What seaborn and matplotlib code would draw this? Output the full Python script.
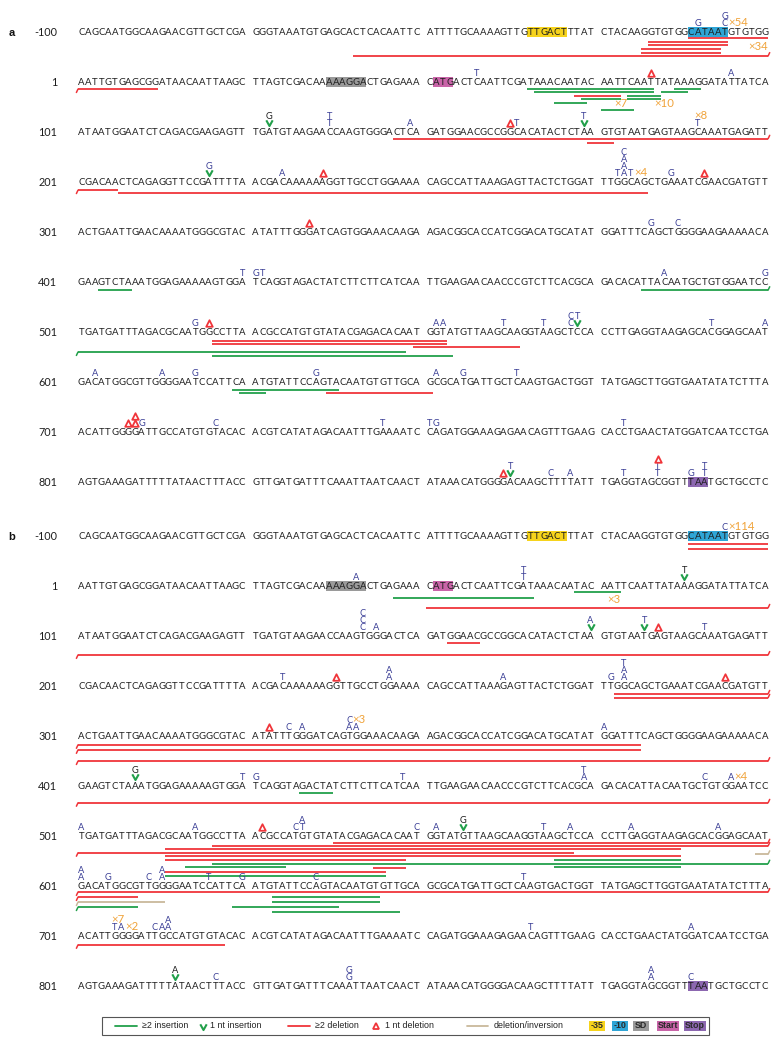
import matplotlib
matplotlib.use("Agg")
import matplotlib.pyplot as plt
from matplotlib.patches import Rectangle
from matplotlib.path import Path
import numpy as np
import pandas as pd
import seaborn as sns

# %%
# Reference sequence: 10 rows, 4 blocks of 25 nt each
row_labels = ["-100", "1", "101", "201", "301", "401", "501", "601", "701", "801"]
seq_blocks = [
    ["CAGCAATGGCAAGAACGTTGCTCGA", "GGGTAAATGTGAGCACTCACAATTC", "ATTTTGCAAAAGTTGTTGACTTTAT", "CTACAAGGTGTGGCATAATGTGTGG"],
    ["AATTGTGAGCGGATAACAATTAAGC", "TTAGTCGACAAAAAGGACTGAGAAA", "CATGACTCAATTCGATAAACAATAC", "AATTCAATTATAAAGGATATTATCA"],
    ["ATAATGGAATCTCAGACGAAGAGTT", "TGATGTAAGAACCAAGTGGGACTCA", "GATGGAACGCCGGCACATACTCTAA", "GTGTAATGAGTAAGCAAATGAGATT"],
    ["CGACAACTCAGAGGTTCCGATTTTA", "ACGACAAAAAAGGTTGCCTGGAAAA", "CAGCCATTAAAGAGTTACTCTGGAT", "TTGGCAGCTGAAATCGAACGATGTT"],
    ["ACTGAATTGAACAAAATGGGCGTAC", "ATATTTGGGATCAGTGGAAACAAGA", "AGACGGCACCATCGGACATGCATAT", "GGATTTCAGCTGGGGAAGAAAAACA"],
    ["GAAGTCTAAATGGAGAAAAAGTGGA", "TCAGGTAGACTATCTTCTTCATCAA", "TTGAAGAACAACCCGTCTTCACGCA", "GACACATTACAATGCTGTGGAATCC"],
    ["TGATGATTTAGACGCAATGGCCTTA", "ACGCCATGTGTATACGAGACACAAT", "GGTATGTTAAGCAAGGTAAGCTCCA", "CCTTGAGGTAAGAGCACGGAGCAAT"],
    ["GACATGGCGTTGGGGAATCCATTCA", "ATGTATTCCAGTACAATGTGTTGCA", "GCGCATGATTGCTCAAGTGACTGGT", "TATGAGCTTGGTGAATATATCTTTA"],
    ["ACATTGGGGATTGCCATGTGTACAC", "ACGTCATATAGACAATTTGAAAATC", "CAGATGGAAAGAGAACAGTTTGAAG", "CACCTGAACTATGGATCAATCCTGA"],
    ["AGTGAAAGATTTTTATAACTTTACC", "GTTGATGATTTCAAATTAATCAACT", "ATAAACATGGGGACAAGCTTTTATT", "TGAGGTAGCGGTTTAATGCTGCCTC"],
]

# boxed features: name, row, first col, last col
feature_names = ["-35", "-10", "SD", "Start", "Stop"]
feature_rows = [0, 0, 1, 1, 9]
feature_first = [65, 88, 36, 51, 88]
feature_last = [70, 93, 41, 53, 90]
feature_colors = ["#f6d31c", "#2fa5d6", "#9a9a9a", "#c964a8", "#8c67b0"]

# stacked marks above a base: (row, col, stack bottom->top)
# upper case = substitution (blue), lower case = inserted base (black),
# V = 1 nt insertion, D = 1 nt deletion
stacks_a = [
    (0, 89, "G"), (0, 93, "CG"),
    (1, 57, "T"), (1, 82, "D"), (1, 94, "A"),
    (2, 27, "Vg"), (2, 36, "TT"), (2, 48, "A"), (2, 62, "D"), (2, 63, "T"), (2, 73, "VT"), (2, 89, "T"),
    (3, 19, "VG"), (3, 29, "A"), (3, 35, "D"), (3, 77, "T"), (3, 78, "AAAC"), (3, 79, "T"), (3, 85, "G"), (3, 90, "D"),
    (4, 33, "D"), (4, 82, "G"), (4, 86, "C"),
    (5, 24, "T"), (5, 25, "G"), (5, 26, "T"), (5, 84, "A"), (5, 99, "G"),
    (6, 17, "G"), (6, 19, "D"), (6, 51, "A"), (6, 52, "A"), (6, 61, "T"), (6, 67, "T"), (6, 71, "CC"),
    (6, 72, "VT"), (6, 91, "T"), (6, 99, "A"),
    (7, 2, "A"), (7, 12, "A"), (7, 17, "G"), (7, 34, "G"), (7, 51, "A"), (7, 55, "G"), (7, 63, "T"),
    (8, 7, "D"), (8, 8, "DD"), (8, 9, "G"), (8, 20, "C"), (8, 44, "T"), (8, 50, "T"), (8, 51, "G"), (8, 78, "T"),
    (9, 61, "D"), (9, 62, "VT"), (9, 68, "C"), (9, 71, "A"), (9, 78, "T"), (9, 83, "TTD"), (9, 88, "G"), (9, 90, "TT"),
]
stacks_b = [
    (0, 93, "C"),
    (1, 40, "A"), (1, 64, "TT"), (1, 87, "Vt"),
    (2, 41, "CCC"), (2, 43, "A"), (2, 74, "VA"), (2, 81, "VT"), (2, 83, "D"), (2, 90, "T"),
    (3, 29, "T"), (3, 37, "D"), (3, 45, "AA"), (3, 61, "A"), (3, 76, "G"), (3, 78, "AAT"), (3, 93, "D"),
    (4, 27, "D"), (4, 30, "C"), (4, 32, "A"), (4, 39, "AC"), (4, 40, "A"), (4, 75, "A"),
    (5, 8, "Vg"), (5, 24, "T"), (5, 25, "G"), (5, 47, "T"), (5, 73, "AT"), (5, 90, "C"), (5, 94, "A"),
    (6, 0, "A"), (6, 17, "A"), (6, 26, "D"), (6, 31, "C"), (6, 32, "TA"), (6, 49, "C"), (6, 51, "A"),
    (6, 55, "Vg"), (6, 67, "T"), (6, 71, "A"), (6, 79, "A"), (6, 92, "A"),
    (7, 0, "AA"), (7, 4, "G"), (7, 10, "C"), (7, 12, "AA"), (7, 19, "T"), (7, 24, "G"), (7, 34, "C"), (7, 64, "T"),
    (8, 5, "T"), (8, 6, "A"), (8, 11, "C"), (8, 12, "A"), (8, 13, "AA"), (8, 65, "T"), (8, 88, "A"),
    (9, 14, "Va"), (9, 20, "C"), (9, 39, "GG"), (9, 82, "AA"), (9, 88, "C"),
]

# multi-nt events: (row, first col, last col, track, kind, continuation)
# kind g = insertion, r = deletion, t = deletion/inversion
lines_a = [
    (0, 88, 99, 0, "r", ""), (0, 82, 93, 1.1, "r", ""), (0, 82, 93, 2, "r", ""),
    (0, 81, 92, 3.1, "r", ""), (0, 81, 92, 4.2, "r", ""), (0, 40, 99, 5, "r", "R"),
    (1, 0, 11, 0.3, "r", "L"), (1, 65, 82, 0.3, "g", ""), (1, 86, 89, 0.3, "g", ""),
    (1, 66, 82, 1.2, "g", ""), (1, 84, 87, 1.2, "g", ""),
    (1, 72, 77, 2.1, "r", ""), (1, 79, 83, 2.1, "g", ""),
    (1, 73, 77, 3, "g", ""), (1, 79, 83, 3, "g", ""),
    (1, 69, 73, 4.2, "g", ""), (1, 75, 79, 6.1, "g", ""),
    (2, 46, 99, 0.2, "r", "R"), (2, 74, 76, 1.4, "r", ""),
    (3, 0, 5, 0.6, "r", "L"), (3, 6, 81, 1.4, "r", ""),
    (5, 3, 7, 0.6, "g", ""), (5, 81, 99, 0.6, "g", "R"),
    (6, 20, 52, 0.8, "r", ""), (6, 20, 52, 1.6, "r", ""), (6, 49, 63, 2.5, "r", ""),
    (6, 0, 47, 3.9, "g", "L"), (6, 20, 53, 5, "g", ""),
    (7, 23, 37, 0.5, "g", ""), (7, 24, 26, 1.4, "g", ""), (7, 36, 50, 1.4, "r", ""),
]
lines_b = [
    (0, 88, 99, 0.6, "r", ""), (0, 88, 99, 1.9, "r", ""),
    (1, 72, 77, 0, "g", ""), (1, 46, 65, 1.6, "g", ""), (1, 50, 99, 4.4, "r", "R"),
    (2, 53, 57, 0.3, "r", ""), (2, 0, 99, 3.6, "r", "LR"),
    (3, 77, 99, 0.5, "r", "R"), (3, 77, 99, 1.6, "r", "R"),
    (4, 0, 80, 0.8, "r", "L"), (4, 0, 80, 2.2, "r", "L"), (4, 0, 99, 5.3, "r", "LR"),
    (5, 32, 36, 0.2, "g", ""), (5, 0, 99, 3, "r", "LR"),
    (6, 37, 99, 0.2, "r", "R"), (6, 20, 99, 1.1, "r", "R"), (6, 13, 86, 2, "r", ""),
    (6, 0, 71, 3, "r", "L"), (6, 13, 86, 4, "r", ""), (6, 13, 47, 5, "r", ""), (6, 69, 86, 5, "g", ""),
    (6, 20, 99, 6, "g", "R"), (6, 69, 86, 7, "g", ""), (6, 16, 29, 7, "g", ""), (6, 43, 47, 7.3, "r", ""),
    (6, 13, 44, 8.3, "r", ""), (6, 13, 44, 9.4, "g", ""), (6, 98, 99, 3.4, "t", "R"),
    (7, 0, 99, 0, "r", "LR"), (7, 0, 8, 1.4, "r", "L"), (7, 0, 12, 2.8, "t", "L"), (7, 0, 8, 4.2, "g", "L"),
    (7, 28, 43, 1.4, "g", ""), (7, 28, 43, 2.8, "g", ""), (7, 23, 37, 4.2, "g", ""), (7, 28, 46, 5.6, "g", ""),
    (8, 0, 21, 0.8, "r", "L"),
]

# read counts: (row, col, side, level, text)
counts_a = [
    (0, 94, "up", 1, "×54"), (0, 97, "down", 2.4, "×34"),
    (1, 77, "down", 4.3, "×7"), (1, 83, "down", 4.3, "×10"),
    (2, 89, "up", 2, "×8"), (3, 80, "up", 1, "×4"),
]
counts_b = [
    (0, 94, "up", 1, "×114"), (1, 76, "down", 2.1, "×3"), (4, 40, "up", 2, "×3"),
    (5, 95, "up", 1, "×4"), (8, 7, "up", 1, "×2"), (8, 5, "up", 2, "×7"),
]

# %%
# Style
sns.set_theme(style="white")
plt.rcParams["font.family"] = ["Lato", "DejaVu Sans"]

SEQ_C = "#1e1e1e"
SUB_C = "#3b3f96"
CNT_C = "#f0a33a"
KIND_C = {"g": "#22a04b", "r": "#f0353a", "t": "#c9b99b"}

X0, PITCH, STEP = 78.0, 6.7, 50.0
PANEL_TOP = {"a": 32.0, "b": 536.0}
FS = 6.9
CAP = 6.7


def col_left(col):
    return X0 + (col + col // 25) * PITCH


def col_mid(col):
    return col_left(col) + PITCH / 2


def level_y(yc, k):
    return yc - 9.5 - 7.0 * (k - 1)


def track_y(yc, t):
    return yc + 6.0 + 3.6 * t


V_PATH = Path([(-1.0, 1.0), (0.0, -0.8), (1.0, 1.0)], [Path.MOVETO, Path.LINETO, Path.LINETO])

fig = plt.figure(figsize=(7.82, 10.46), dpi=100)
ax = fig.add_axes([0, 0, 1, 1])
ax.set_xlim(0, 782)
ax.set_ylim(1046, 0)
ax.axis("off")

panels = [("a", stacks_a, lines_a, counts_a), ("b", stacks_b, lines_b, counts_b)]

for name, stacks, lines, counts in panels:
    top = PANEL_TOP[name]
    ax.text(12, top + 3.6, name, fontsize=8, fontweight="bold", ha="center", va="baseline",
            color="#111111", family=["Liberation Sans", "DejaVu Sans"])

    # feature boxes
    for fname, fr, f0, f1, fc in zip(feature_names, feature_rows, feature_first, feature_last, feature_colors):
        yc = top + fr * STEP
        ax.add_patch(Rectangle((col_left(f0), yc - 5.2), col_left(f1) + PITCH - col_left(f0), 10.2,
                               facecolor=fc, edgecolor="none", zorder=0))

    # sequence
    for r, blocks in enumerate(seq_blocks):
        yc = top + r * STEP
        seq = "".join(blocks)
        ax.text(57, yc + 3.7, row_labels[r], fontsize=7.8, ha="right", va="baseline", color=SEQ_C)
        for col, ch in enumerate(seq):
            ax.text(col_mid(col), yc + CAP / 2, ch, fontsize=FS, ha="center", va="baseline",
                    color=SEQ_C, zorder=2)

    # stacked substitutions / 1 nt events
    tri = []
    vee = []
    for r, col, stack in stacks:
        yc = top + r * STEP
        for k, ch in enumerate(stack, start=1):
            y = level_y(yc, k)
            if ch == "V":
                vee.append((col_mid(col), y + 0.5))
            elif ch == "D":
                tri.append((col_mid(col), y + 0.3))
            else:
                color = SEQ_C if ch.islower() else SUB_C
                ax.text(col_mid(col), y + CAP / 2, ch.upper(), fontsize=FS - 0.2, ha="center",
                        va="baseline", color=color, zorder=3)

    tri_df = pd.DataFrame(tri, columns=["x", "y"])
    sns.scatterplot(data=tri_df, x="x", y="y", marker="^", s=22, color=KIND_C["r"],
                    facecolor="white", edgecolor=KIND_C["r"], linewidth=1.3, zorder=4, ax=ax, legend=False)
    vee_arr = np.array(vee)
    ax.plot(vee_arr[:, 0], vee_arr[:, 1], ls="none", marker=V_PATH, ms=4.6, mfc="none",
            mec=KIND_C["g"], mew=1.5, zorder=4)

    # multi-nt event lines
    for r, c0, c1, t, kind, cont in lines:
        yc = top + r * STEP
        y = track_y(yc, t)
        x0 = col_left(c0)
        x1 = col_left(c1) + PITCH
        color = KIND_C[kind]
        ax.plot([x0, x1], [y, y], color=color, lw=1.3, solid_capstyle="butt", zorder=1)
        if "R" in cont:
            ax.plot([x1, x1 + 1.6], [y, y - 3.4], color=color, lw=1.1, zorder=1)
        if "L" in cont:
            ax.plot([x0, x0 - 1.6], [y, y + 3.4], color=color, lw=1.1, zorder=1)

    # counts
    for r, col, side, lev, txt in counts:
        yc = top + r * STEP
        if side == "up":
            y = level_y(yc, lev) + CAP / 2 + 0.4
        else:
            y = track_y(yc, lev) + CAP / 2 + 0.4
        ax.text(col_left(col), y, txt, fontsize=FS + 1.3, ha="left", va="baseline", color=CNT_C, zorder=3)

# %%
# Legend box
LEG_Y = 1026
ax.add_patch(Rectangle((102, 1017), 607, 18, facecolor="white", edgecolor="#555555", lw=0.8, zorder=1))
leg_font = dict(fontsize=6.4, va="center", ha="left", color="#222222", family=["Liberation Sans", "DejaVu Sans"])
ax.plot([115, 137], [LEG_Y, LEG_Y], color=KIND_C["g"], lw=1.3, zorder=2)
ax.text(142, LEG_Y, "≥2 insertion", **leg_font)
ax.plot([203], [LEG_Y + 0.5], ls="none", marker=V_PATH, ms=4.6, mfc="none", mec=KIND_C["g"], mew=1.5, zorder=2)
ax.text(210, LEG_Y, "1 nt insertion", **leg_font)
ax.plot([288, 310], [LEG_Y, LEG_Y], color=KIND_C["r"], lw=1.3, zorder=2)
ax.text(315, LEG_Y, "≥2 deletion", **leg_font)
ax.plot([376], [LEG_Y], ls="none", marker="^", ms=5, mfc="white", mec=KIND_C["r"], mew=1.3, zorder=2)
ax.text(385, LEG_Y, "1 nt deletion", **leg_font)
ax.plot([467, 488], [LEG_Y, LEG_Y], color=KIND_C["t"], lw=1.3, zorder=2)
ax.text(494, LEG_Y, "deletion/inversion", **leg_font)

box_x = [589, 612, 633, 657, 684]
box_w = [16, 16, 16, 22, 22]
for fname, fc, bx, bw in zip(feature_names, feature_colors, box_x, box_w):
    ax.add_patch(Rectangle((bx, LEG_Y - 5), bw, 10, facecolor=fc, edgecolor="none", zorder=2))
    ax.text(bx + bw / 2, LEG_Y, fname, fontsize=6.4, fontweight="bold", ha="center", va="center",
            color="#2a2a2a", family=["Liberation Sans", "DejaVu Sans"], zorder=3)

fig.savefig("out.png", dpi=100)
